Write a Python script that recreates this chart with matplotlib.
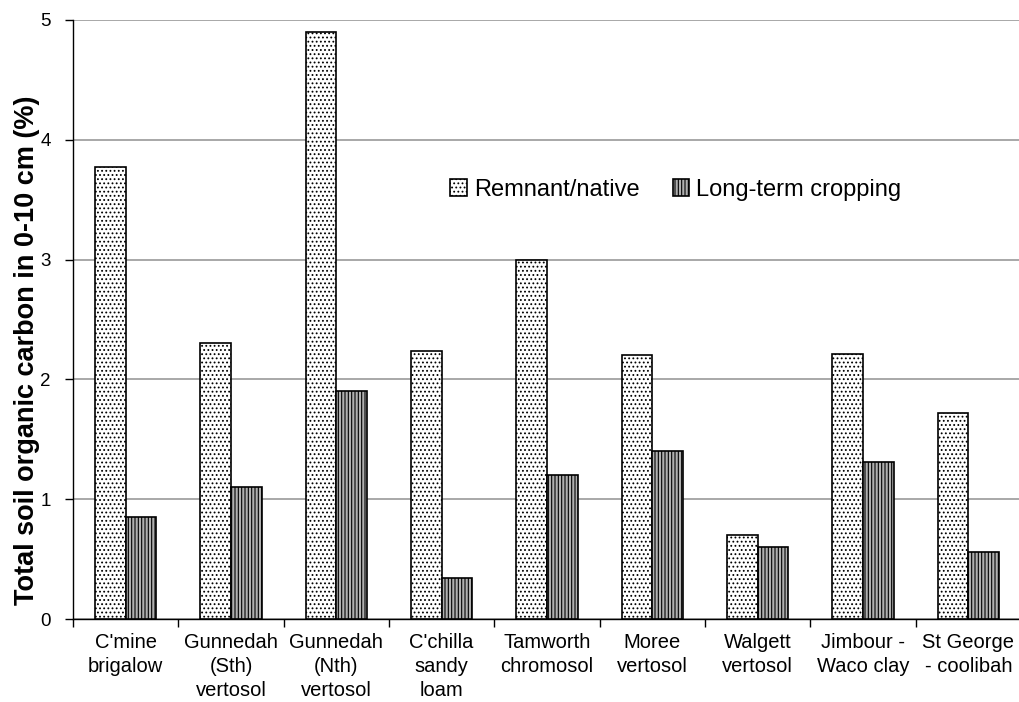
import matplotlib
matplotlib.use("Agg")
import matplotlib.pyplot as plt
import numpy as np

categories = ["C'mine\nbrigalow", "Gunnedah\n(Sth)\nvertosol", "Gunnedah\n(Nth)\nvertosol",
              "C'chilla\nsandy\nloam", "Tamworth\nchromosol", "Moree\nvertosol",
              "Walgett\nvertosol", "Jimbour -\nWaco clay", "St George\n- coolibah"]
remnant = [3.77, 2.30, 4.90, 2.24, 3.00, 2.20, 0.70, 2.21, 1.72]
cropping = [0.85, 1.10, 1.90, 0.34, 1.20, 1.40, 0.60, 1.31, 0.56]
series_names = ["Remnant/native", "Long-term cropping"]
yticks = [0, 1, 2, 3, 4, 5]

plt.rcParams['font.family'] = ['Liberation Sans', 'DejaVu Sans']
plt.rcParams['hatch.linewidth'] = 0.8

W, H = 1019, 702
fig = plt.figure(figsize=(W / 100, H / 100), dpi=100)
ax = fig.add_axes([73 / W, (H - 619) / H, 948 / W, 599 / H])

x = np.arange(len(categories))
bw = 0.29
ax.bar(x - bw / 2, remnant, bw, color='white', edgecolor='black', linewidth=1.2,
       hatch='....', label=series_names[0], zorder=3)
ax.bar(x + bw / 2, cropping, bw, color='#b0b0b0', edgecolor='black', linewidth=1.2,
       hatch='|||||', label=series_names[1], zorder=3)

ax.set_xlim(-0.5, len(categories) - 0.5)
ax.set_ylim(0, 5)
ax.set_yticks(yticks)
ax.yaxis.grid(True, color='#999999', linewidth=1.2, zorder=0)
ax.set_axisbelow(True)

ax.set_xticks(np.arange(len(categories) + 1) - 0.5, minor=False)
ax.set_xticklabels([])
ax.set_xticks(x, minor=True)
ax.set_xticklabels(categories, minor=True, fontsize=14.5, linespacing=1.33, va='top')
ax.tick_params(axis='x', which='minor', length=0, pad=10)
ax.tick_params(axis='x', which='major', length=6, direction='out', width=1)
ax.tick_params(axis='y', labelsize=13.5, length=6, direction='out', width=1, pad=10)

for s in ['top', 'right']:
    ax.spines[s].set_visible(False)
ax.spines['left'].set_linewidth(1)
ax.spines['bottom'].set_linewidth(1)

ax.set_ylabel("Total soil organic carbon in 0-10 cm (%)", fontsize=19.5, fontweight='bold')
ax.yaxis.set_label_coords((40 - 73) / 948, (619 - 350) / 599)

ax.legend(ncol=2, frameon=False, fontsize=17, loc='center',
          bbox_to_anchor=((676 - 73) / 948, (619 - 190) / 599),
          handlelength=0.7, handleheight=0.7, handletextpad=0.3, columnspacing=1.4)

fig.savefig("out.png", dpi=100)
